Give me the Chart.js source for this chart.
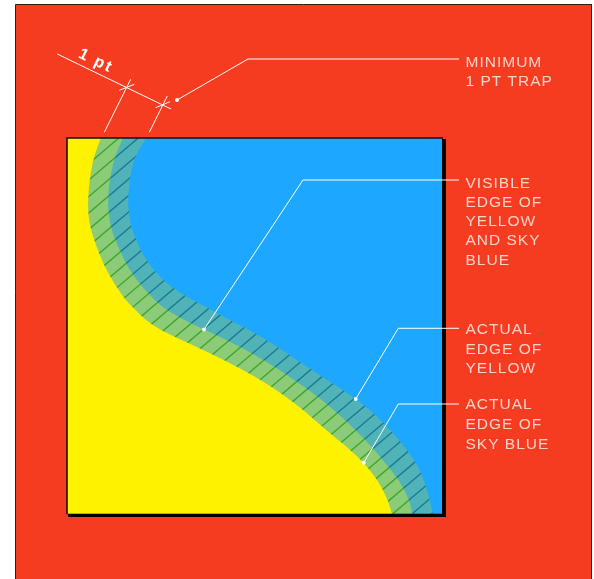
<!DOCTYPE html>
<html><head><meta charset="utf-8">
<style>html,body{margin:0;padding:0;background:#fff}canvas{display:block}</style>
<script src="https://cdn.jsdelivr.net/npm/chart.js@4"></script></head>
<body><canvas id="c" width="594" height="579"></canvas>
<script>
const yellowEdgeX=[100.7,92.7,88.3,89.5,96.7,106.7,123.3,134,145,157,170,203,230,263.3,296.7,330,350,364,378.3,387.5,392];
const yellowEdgeY=[138,163,196.7,222,246.7,270,296.7,308.5,319,327.5,334.5,350,363.3,381.7,405,433.3,450,463.5,482,500,514];
const trapEdgeX=[122.7,113.3,108.3,110,116.7,130,148.3,163.3,180,204,230,263.3,296.7,330,363.3,381,398.3,408,412.5];
const trapEdgeY=[138,163,196.7,222,243,270,293.3,307.3,317.5,329.5,341.7,360,381.7,406.7,438,458,480,498,514];
const blueEdgeX=[145.7,133.3,128.3,130,135,146.7,163.3,180,204,230,263.3,296.7,330,355.7,372,390,405,418,427,433];
const blueEdgeY=[138,163,196.7,220,236.7,260,280,292.5,306,320,338,360,381.7,399,412,430,447.5,467,490,514];
const squareX=[67,443];
const squareY=[138,514];
const hatchSlope=0.85;
const hatchOffsets=[222.5,239,255.5,272,288.4,304.8,321.3,337.7,354.2,370.6,387,403.5,420,436.4,452.9,469.3,485.8,502.2,518.7,535.1,551.6,568,584.5,600.9,617.4,633.8,650.3,666.7,683.2,699.6,716,732.5,749,765.4,781.9,798.3,814.8,831.2,847.7,864.1,880.6,897];
const frameX=[15.5,15.5,591.5,591.5];
const frameY=[579,4.5,4.5,579];
const dimX=[57.3,171];const dimY=[54,109];
const ext1X=[104.3,130.7];const ext1Y=[132.3,79.3];
const ext2X=[149.3,167.3];const ext2Y=[132.3,96];
const tick1X=[119.3,134.3];const tick1Y=[90.3,84.3];
const tick2X=[155.7,170];const tick2Y=[107.7,101.7];
const leader1X=[177,248,459];const leader1Y=[100,59,59];
const leader2X=[204,303,459];const leader2Y=[329.5,180,180];
const leader3X=[355.7,398.3,459];const leader3Y=[399,328.3,328.3];
const leader4X=[363.7,398.3,459];const leader4Y=[462.7,404,404];
const labelLines=["MINIMUM","1 PT TRAP","VISIBLE","EDGE OF","YELLOW","AND SKY","BLUE","ACTUAL","EDGE OF","YELLOW","ACTUAL","EDGE OF","SKY BLUE"];
const labelX=465.5;
const labelY=[67.3,85.7,188,207,225.7,245,265,334.3,354,372.7,409.3,429,448.7];
const dimLabel="1 pt";const dimLabelX=77.5;const dimLabelY=57;

const pts=(xs,ys)=>xs.map((x,i)=>({x,y:ys[i]}));
const below=(xs,ys)=>{const p=pts(xs,ys),e=p[p.length-1],s=p[0];
  const bl={x:squareX[0],y:squareY[1]},tl={x:squareX[0],y:squareY[0]};
  return [...p,e,bl,bl,tl,tl,s,s];};
const rect=(x0,y0,x1,y1)=>[{x:x0,y:y0},{x:x1,y:y0},{x:x1,y:y1},{x:x0,y:y1},{x:x0,y:y0}];
const hatch=hatchOffsets.flatMap(c=>[{x:squareX[0],y:c-hatchSlope*squareX[0]},{x:squareX[1],y:c-hatchSlope*squareX[1]},{x:null,y:null}]);
const fillSet=(data,color,tension=0)=>({data,backgroundColor:color,borderWidth:0,borderColor:'transparent',fill:'shape',showLine:true,pointRadius:0,tension,clip:false});
const lineSet=(data,color,w=1)=>({data,borderColor:color,borderWidth:w,fill:false,showLine:true,pointRadius:0,tension:0,clip:false,borderCapStyle:'butt'});

const layers=[
 fillSet(rect(0,0,594,579),'#ffffff'),
 fillSet(rect(frameX[0],frameY[1],frameX[2],frameY[0]),'#F63C20'),
 lineSet(pts(frameX,frameY),'#3a1710',1),
 fillSet(rect(squareX[0]+1,squareY[0]+1,squareX[1]+3,squareY[1]+3),'#000000'),
 fillSet(rect(squareX[0],squareY[0],squareX[1]-1,squareY[1]),'#1EA7FF'),
 fillSet(below(blueEdgeX,blueEdgeY),'#50B3B8',0.35),
 {...lineSet(hatch,'#1B7A92',1.4),clipTo:5},
 fillSet(below(trapEdgeX,trapEdgeY),'#8CCB78',0.35),
 {...lineSet(hatch,'#3FA52B',1.4),clipTo:7},
 fillSet(below(yellowEdgeX,yellowEdgeY),'#FFF200',0.35),
 lineSet(pts([squareX[0],squareX[0],squareX[1]],[squareY[1],squareY[0],squareY[0]]),'#111111',1.6),
 lineSet(pts([squareX[0],squareX[1]-1],[squareY[1],squareY[1]]),'rgba(0,0,0,0.55)',1.2),
 lineSet(pts(dimX,dimY),'#ffffff'),
 lineSet(pts(ext1X,ext1Y),'#ffffff'),
 lineSet(pts(ext2X,ext2Y),'#ffffff'),
 lineSet(pts(tick1X,tick1Y),'#ffffff'),
 lineSet(pts(tick2X,tick2Y),'#ffffff'),
 lineSet(pts(leader1X,leader1Y),'#ffffff'),
 lineSet(pts(leader2X,leader2Y),'#ffffff'),
 lineSet(pts(leader3X,leader3Y),'#ffffff'),
 lineSet(pts(leader4X,leader4Y),'#ffffff'),
 {data:[0,1,2,3].map(i=>({x:[leader1X,leader2X,leader3X,leader4X][i][0],y:[leader1Y,leader2Y,leader3Y,leader4Y][i][0]})),pointRadius:2,pointBackgroundColor:'#fff',pointBorderWidth:0,showLine:false,clip:false}
];
layers.forEach((d,i)=>{d.order=layers.length-i;});

const clipPlugin={id:'bandClip',
 beforeDatasetDraw(chart,args){const d=chart.data.datasets[args.index];
  if(d.clipTo===undefined)return;
  const ctx=chart.ctx;ctx.save();ctx.beginPath();
  chart.getDatasetMeta(d.clipTo).dataset.path(ctx);ctx.closePath();ctx.clip();},
 afterDatasetDraw(chart,args){const d=chart.data.datasets[args.index];
  if(d.clipTo!==undefined)chart.ctx.restore();}};
const textPlugin={id:'labels',
 afterDatasetsDraw(chart){const {ctx,scales:{x,y}}=chart;
  ctx.save();ctx.textBaseline='alphabetic';ctx.textAlign='left';
  ctx.font='15.5px "Liberation Sans"';ctx.letterSpacing='1px';ctx.fillStyle='#FFD3C8';
  labelLines.forEach((t,i)=>ctx.fillText(t,x.getPixelForValue(labelX),y.getPixelForValue(labelY[i])));
  ctx.translate(x.getPixelForValue(dimLabelX),y.getPixelForValue(dimLabelY));
  ctx.rotate(Math.atan2(dimY[1]-dimY[0],dimX[1]-dimX[0]));
  ctx.font='bold 16px "Liberation Sans"';ctx.letterSpacing='2px';ctx.fillStyle='#ffffff';
  ctx.fillText(dimLabel,0,0);
  ctx.restore();}};
new Chart(document.getElementById('c'),{type:'scatter',data:{datasets:layers},plugins:[clipPlugin,textPlugin],
 options:{responsive:false,animation:false,devicePixelRatio:1,layout:{padding:0,autoPadding:false},events:[],
  plugins:{legend:{display:false},tooltip:{enabled:false},title:{display:false}},
  scales:{x:{type:'linear',min:0,max:594,display:false},y:{type:'linear',min:0,max:579,reverse:true,display:false}}}});
</script></body></html>
